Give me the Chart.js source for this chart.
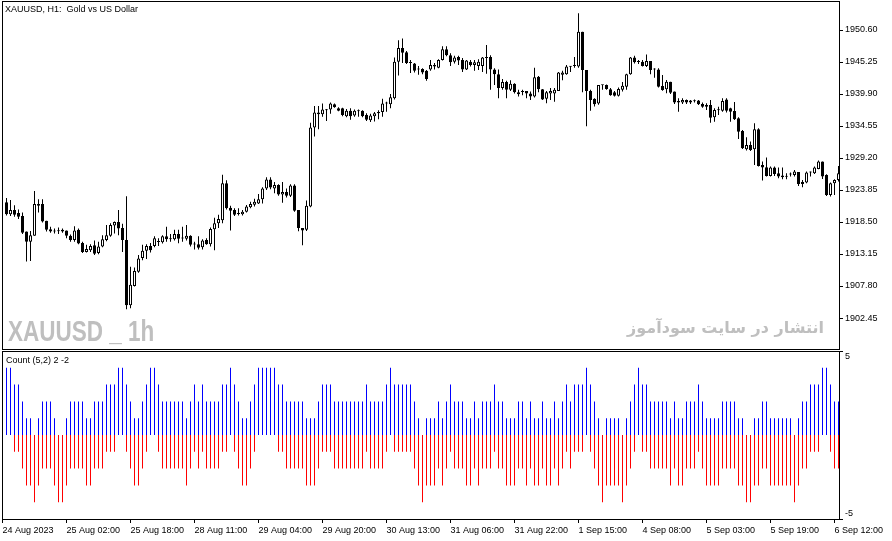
<!DOCTYPE html>
<html>
<head>
<meta charset="utf-8">
<title>XAUUSD H1</title>
<script src="https://cdn.jsdelivr.net/npm/chart.js@4.4.0/dist/chart.umd.min.js"></script>
<style>
  body { margin: 0; background: #fff; width: 892px; height: 541px; position: relative; overflow: hidden;
         font-family: "Liberation Sans", Arial, sans-serif; }
  canvas { position: absolute; left: 0; }
  #main { top: 0; }
  #sub { top: 350px; }
  .txt { position: absolute; white-space: nowrap; color: #000; font-size: 9px; line-height: 11px; }
  #title { left: 5px; top: 4px; }
  #countLabel { left: 6px; top: 355px; }
  #mark1 { position: absolute; left: 8px; top: 316px; font-size: 30px; line-height: 30px; font-weight: bold;
           color: #bfbfbf; transform: scaleX(0.75); transform-origin: left top; white-space: nowrap; }
  #mark2 { position: absolute; right: 68px; top: 317px; font-family: "DejaVu Sans"; font-size: 16px; line-height: 22px;
           font-weight: bold; color: #bfbfbf; direction: rtl; white-space: nowrap; }
</style>
</head>
<body>
<canvas id="main" width="892" height="350"></canvas>
<canvas id="sub" width="892" height="191"></canvas>
<div class="txt" id="title">XAUUSD, H1:&nbsp; Gold vs US Dollar</div>
<div class="txt" id="countLabel">Count (5,2) 2 -2</div>
<div id="mark1">XAUUSD _ 1h</div>
<div id="mark2">انتشار در سایت سودآموز</div>
<script>
// Velas H1
const opens = [
  1921.8, 1919.8, 1920.5, 1920.0, 1919.5, 1916.9, 1915.2, 1916.2, 1921.5, 1921.5,
  1918.7, 1917.3, 1917.1, 1917.0, 1917.2, 1917.1, 1916.2, 1915.5, 1917.2, 1915.0,
  1913.5, 1913.8, 1914.6, 1913.3, 1914.4, 1915.5, 1916.2, 1917.9, 1918.5, 1917.5,
  1915.5, 1904.6, 1907.8, 1910.2, 1912.5, 1913.7, 1914.5, 1914.5, 1915.2, 1915.1,
  1916.1, 1915.6, 1915.6, 1916.5, 1915.8, 1915.7, 1916.2, 1914.8, 1914.8, 1914.3,
  1915.5, 1914.8, 1917.3, 1918.3, 1918.8, 1924.97, 1920.9, 1920.5, 1919.9, 1919.8,
  1920.2, 1920.96, 1921.4, 1921.6, 1922.3, 1924.1, 1925.6, 1924.1, 1924.7, 1923.1,
  1923.5, 1922.9, 1924.6, 1920.5, 1917.5, 1917.2, 1921.1, 1934.3, 1936.8, 1936.5,
  1937.3, 1937.3, 1938.2, 1937.5, 1937.5, 1936.2, 1937.1, 1936.3, 1937.1, 1937.1,
  1936.4, 1935.5, 1936.2, 1936.7, 1936.9, 1938.3, 1938.2, 1939.2, 1945.3, 1947.6,
  1946.9, 1945.2, 1945.0, 1944.0, 1944.1, 1943.8, 1944.0, 1944.5, 1944.3, 1945.6,
  1947.4, 1946.4, 1945.3, 1946.1, 1945.6, 1944.0, 1945.3, 1944.75, 1944.6, 1944.6,
  1946.0, 1946.1, 1944.0, 1943.2, 1940.9, 1941.9, 1940.6, 1941.6, 1940.2, 1940.3,
  1940.4, 1940.0, 1939.5, 1942.8, 1940.7, 1939.1, 1940.0, 1940.0, 1940.4, 1943.1,
  1943.2, 1944.5, 1944.6, 1944.5, 1950.3, 1943.9, 1940.4, 1939.1, 1938.3, 1941.4,
  1941.4, 1940.7, 1940.2, 1939.6, 1940.6, 1941.1, 1943.2, 1946.0, 1945.3, 1945.3,
  1944.6, 1945.4, 1944.0, 1944.0, 1941.24, 1940.69, 1941.97, 1940.3, 1938.74, 1938.46,
  1938.9, 1938.8, 1938.74, 1938.8, 1938.24, 1938.07, 1938.07, 1936.01, 1937.23, 1937.12,
  1939.0, 1937.51, 1937.07, 1935.84, 1933.72, 1930.66, 1931.38, 1930.66, 1934.0, 1928.04,
  1927.65, 1926.2, 1927.6, 1926.65, 1926.26, 1926.09, 1926.48, 1926.37, 1926.87, 1925.2,
  1925.09, 1926.76, 1926.65, 1927.37, 1928.6, 1926.37, 1923.03, 1924.98, 1925.54
];
const highs = [
  1922.5, 1922.2, 1921.3, 1920.6, 1920.1, 1916.9, 1917.0, 1923.7, 1922.3, 1922.3,
  1918.7, 1917.7, 1917.4, 1917.6, 1917.4, 1917.1, 1916.4, 1917.8, 1917.4, 1915.2,
  1914.7, 1914.8, 1915.4, 1915.2, 1916.3, 1918.0, 1918.3, 1918.6, 1920.5, 1918.2,
  1922.8, 1911.0, 1910.9, 1913.0, 1914.7, 1914.8, 1915.0, 1916.1, 1915.8, 1916.3,
  1917.7, 1916.5, 1917.2, 1917.2, 1917.7, 1918.0, 1916.3, 1915.2, 1916.1, 1915.6,
  1915.8, 1917.6, 1919.2, 1919.7, 1926.4, 1925.5, 1921.2, 1920.8, 1920.8, 1920.5,
  1921.35, 1921.9, 1922.4, 1923.2, 1924.3, 1926.0, 1926.0, 1925.2, 1924.8, 1925.2,
  1924.1, 1924.8, 1924.8, 1920.5, 1917.5, 1922.1, 1935.1, 1937.9, 1937.9, 1938.3,
  1937.4, 1938.5, 1938.3, 1937.7, 1937.6, 1937.4, 1937.5, 1937.3, 1937.3, 1937.2,
  1936.7, 1936.6, 1936.9, 1937.2, 1939.1, 1938.6, 1939.9, 1946.0, 1948.9, 1949.2,
  1947.1, 1945.6, 1945.1, 1944.6, 1944.2, 1943.9, 1945.6, 1945.1, 1945.7, 1947.9,
  1947.9, 1946.7, 1946.3, 1946.3, 1945.9, 1945.6, 1945.6, 1945.6, 1945.7, 1946.1,
  1948.1, 1946.4, 1944.2, 1944.0, 1942.4, 1942.1, 1942.2, 1941.7, 1940.6, 1940.6,
  1940.4, 1940.3, 1944.3, 1942.9, 1940.74, 1940.4, 1940.9, 1940.9, 1943.6, 1943.8,
  1944.75, 1944.6, 1946.1, 1953.4, 1950.3, 1943.9, 1940.6, 1939.2, 1941.4, 1941.45,
  1941.5, 1940.9, 1940.4, 1941.0, 1941.9, 1943.3, 1946.1, 1946.3, 1945.6, 1945.6,
  1946.5, 1945.4, 1944.2, 1944.2, 1943.08, 1942.25, 1941.97, 1940.3, 1939.18, 1939.18,
  1939.0, 1938.9, 1939.0, 1938.9, 1938.46, 1938.35, 1938.9, 1937.51, 1937.79, 1939.18,
  1939.18, 1937.62, 1938.57, 1936.01, 1933.89, 1932.67, 1931.94, 1935.0, 1934.17, 1928.6,
  1929.27, 1927.77, 1927.77, 1927.6, 1927.6, 1926.65, 1926.76, 1927.21, 1926.87, 1925.54,
  1926.93, 1926.93, 1927.77, 1928.77, 1928.6, 1926.48, 1925.09, 1925.65, 1927.88
];
const lows = [
  1919.6, 1919.5, 1919.4, 1919.0, 1916.5, 1911.9, 1912.0, 1916.2, 1920.1, 1918.4,
  1916.9, 1916.7, 1916.6, 1916.5, 1916.7, 1915.8, 1915.2, 1915.2, 1914.8, 1913.3,
  1913.4, 1913.5, 1913.0, 1913.1, 1914.3, 1915.3, 1916.05, 1916.6, 1916.3, 1913.5,
  1903.9, 1904.1, 1907.7, 1910.0, 1912.1, 1912.3, 1913.4, 1914.3, 1914.5, 1914.9,
  1915.2, 1915.2, 1915.4, 1914.95, 1915.2, 1915.4, 1914.4, 1913.9, 1913.9, 1913.9,
  1914.7, 1914.4, 1913.8, 1917.5, 1918.3, 1920.6, 1917.1, 1919.5, 1919.6, 1919.6,
  1920.1, 1920.8, 1921.1, 1921.5, 1921.6, 1923.86, 1923.97, 1923.3, 1922.9, 1921.7,
  1922.6, 1922.7, 1920.2, 1916.95, 1914.6, 1917.0, 1920.96, 1932.8, 1934.0, 1936.1,
  1935.4, 1936.6, 1937.6, 1937.0, 1936.2, 1936.0, 1935.6, 1936.1, 1936.1, 1936.0,
  1935.4, 1935.2, 1935.3, 1935.7, 1936.1, 1936.95, 1937.5, 1939.0, 1943.0, 1945.1,
  1944.9, 1943.4, 1943.5, 1943.1, 1943.2, 1942.1, 1943.8, 1944.0, 1944.2, 1945.5,
  1946.2, 1944.6, 1945.0, 1944.75, 1943.6, 1943.9, 1944.5, 1943.8, 1943.9, 1943.6,
  1943.3, 1940.6, 1941.4, 1939.2, 1940.6, 1939.2, 1940.4, 1940.0, 1939.5, 1939.7,
  1939.2, 1938.9, 1939.3, 1940.2, 1938.9, 1938.35, 1938.9, 1938.6, 1940.4, 1942.2,
  1943.1, 1943.6, 1944.3, 1944.3, 1940.2, 1934.5, 1937.1, 1937.8, 1938.1, 1940.6,
  1940.6, 1939.6, 1939.5, 1939.5, 1940.3, 1940.6, 1943.1, 1945.0, 1944.9, 1944.5,
  1944.4, 1943.2, 1942.6, 1941.0, 1940.46, 1940.02, 1939.91, 1938.24, 1936.95, 1938.24,
  1938.24, 1938.24, 1938.46, 1938.07, 1937.62, 1937.23, 1935.11, 1935.28, 1936.4, 1936.95,
  1936.79, 1935.28, 1935.56, 1932.39, 1930.72, 1930.44, 1930.38, 1928.04, 1927.77, 1925.42,
  1926.09, 1926.09, 1926.2, 1925.81, 1925.65, 1925.65, 1926.09, 1926.09, 1924.53, 1924.31,
  1924.98, 1926.09, 1926.54, 1927.32, 1925.7, 1922.86, 1922.75, 1923.03, 1925.26
];
const closes = [
  1919.8, 1920.5, 1919.7, 1919.4, 1916.7, 1915.2, 1916.3, 1921.5, 1921.2, 1918.6,
  1917.2, 1916.9, 1916.9, 1916.95, 1916.9, 1916.2, 1915.5, 1917.1, 1914.9, 1913.5,
  1914.0, 1914.5, 1913.2, 1914.4, 1915.6, 1916.3, 1918.0, 1918.5, 1917.4, 1915.5,
  1904.6, 1908.0, 1910.3, 1912.4, 1913.7, 1914.5, 1913.8, 1915.8, 1915.15, 1916.1,
  1915.6, 1915.65, 1916.5, 1915.7, 1915.75, 1916.2, 1914.7, 1914.75, 1914.2, 1915.4,
  1914.8, 1917.35, 1918.3, 1919.0, 1924.97, 1920.8, 1920.4, 1919.7, 1919.85, 1920.2,
  1921.1, 1921.5, 1921.9, 1922.3, 1924.1, 1925.6, 1924.25, 1924.7, 1923.1, 1923.5,
  1922.9, 1924.6, 1920.4, 1917.5, 1917.1, 1921.2, 1934.3, 1936.8, 1936.5, 1937.3,
  1937.2, 1938.3, 1937.7, 1937.1, 1936.4, 1937.1, 1936.2, 1937.1, 1937.0, 1936.2,
  1935.6, 1936.3, 1936.7, 1936.9, 1938.3, 1938.35, 1939.35, 1945.3, 1947.6, 1946.8,
  1945.1, 1945.1, 1943.8, 1944.05, 1943.5, 1942.4, 1944.75, 1944.75, 1945.6, 1947.4,
  1946.4, 1945.2, 1946.0, 1945.5, 1944.0, 1945.5, 1944.75, 1945.2, 1945.3, 1946.0,
  1945.9, 1944.0, 1943.2, 1940.9, 1941.9, 1940.6, 1941.6, 1940.2, 1939.85, 1940.25,
  1940.0, 1939.5, 1942.7, 1940.7, 1939.0, 1940.2, 1940.4, 1940.6, 1943.5, 1943.5,
  1944.5, 1944.45, 1944.7, 1950.3, 1943.9, 1940.4, 1938.9, 1938.2, 1941.4, 1941.35,
  1940.74, 1939.7, 1939.6, 1940.74, 1941.3, 1943.2, 1946.0, 1945.2, 1945.25, 1944.6,
  1945.4, 1943.9, 1944.0, 1941.1, 1940.58, 1941.97, 1940.13, 1938.46, 1938.46, 1938.9,
  1938.46, 1938.46, 1938.7, 1938.18, 1937.79, 1937.79, 1935.95, 1937.23, 1937.2, 1938.74,
  1937.12, 1936.95, 1935.67, 1933.61, 1930.83, 1931.38, 1930.55, 1934.0, 1927.88, 1927.6,
  1926.2, 1927.6, 1926.54, 1926.09, 1925.98, 1926.05, 1926.45, 1926.93, 1924.87, 1924.87,
  1926.76, 1926.8, 1927.6, 1928.6, 1926.09, 1923.03, 1924.98, 1925.54, 1926.65
];

// Indicador Count (5,2): barras azuis (acima) e vermelhas (abaixo)
const countUp = [
  4, 4, 3, 3, 2, 1, 1, 0, 1, 2,  2, 2, 1, 0, 0, 1, 2, 2, 2, 2,
  1, 1, 2, 2, 2, 3, 3, 3, 4, 4,  3, 2, 1, 1, 2, 3, 4, 4, 3, 2,
  2, 2, 2, 2, 2, 1, 2, 3, 2, 3,  2, 2, 2, 2, 3, 3, 4, 3, 2, 1,
  1, 2, 3, 4, 4, 4, 4, 4, 3, 3,  2, 2, 2, 2, 2, 1, 1, 1, 2, 3,
  3, 3, 2, 2, 2, 2, 2, 2, 2, 2,  3, 2, 2, 2, 2, 3, 4, 3, 3, 3,
  3, 3, 2, 1, 0, 1, 1, 1, 2, 1,  2, 3, 2, 2, 2, 1, 1, 2, 1, 2,
  2, 2, 3, 2, 2, 1, 1, 1, 2, 2,  1, 2, 1, 1, 2, 1, 1, 2, 1, 2,
  3, 2, 3, 3, 3, 4, 3, 2, 1, 0,  1, 1, 1, 1, 0, 1, 2, 3, 4, 3,
  3, 2, 2, 2, 2, 2, 1, 2, 1, 1,  2, 2, 2, 3, 2, 1, 1, 1, 1, 2,
  2, 2, 2, 1, 1, 0, 0, 1, 1, 2,  2, 1, 1, 1, 1, 1, 1, 0, 1, 2,
  2, 3, 3, 3, 4, 4, 3, 2, 2
];
const countDown = [
  0, 0, -1, -1, -2, -3, -3, -4, -3, -2,  -2, -2, -3, -4, -4, -3, -2, -2, -2, -2,
  -3, -3, -2, -2, -2, -1, -1, -1, 0, 0,  -1, -2, -3, -3, -2, -1, 0, 0, -1, -2,
  -2, -2, -2, -2, -2, -3, -2, -1, -2, -1,  -2, -2, -2, -2, -1, -1, 0, -1, -2, -3,
  -3, -2, -1, 0, 0, 0, 0, 0, -1, -1,  -2, -2, -2, -2, -2, -3, -3, -3, -2, -1,
  -1, -1, -2, -2, -2, -2, -2, -2, -2, -2,  -1, -2, -2, -2, -2, -1, 0, -1, -1, -1,
  -1, -1, -2, -3, -4, -3, -3, -3, -2, -3,  -2, -1, -2, -2, -2, -3, -3, -2, -3, -2,
  -2, -2, -1, -2, -2, -3, -3, -3, -2, -2,  -3, -2, -3, -3, -2, -3, -3, -2, -3, -2,
  -1, -2, -1, -1, -1, 0, -1, -2, -3, -4,  -3, -3, -3, -3, -4, -3, -2, -1, 0, -1,
  -1, -2, -2, -2, -2, -2, -3, -2, -3, -3,  -2, -2, -2, -1, -2, -3, -3, -3, -3, -2,
  -2, -2, -2, -3, -3, -4, -4, -3, -3, -2,  -2, -3, -3, -3, -3, -3, -3, -4, -3, -2,
  -2, -1, -1, -1, 0, 0, -1, -2, -2
];

// Escalas e rótulos dos eixos
const priceTicks = [1950.60, 1945.25, 1939.90, 1934.55, 1929.20, 1923.85, 1918.50, 1913.15, 1907.80, 1902.45];
const timeTicks = ["24 Aug 2023", "25 Aug 02:00", "25 Aug 18:00", "28 Aug 11:00", "29 Aug 04:00",
  "29 Aug 20:00", "30 Aug 13:00", "31 Aug 06:00", "31 Aug 22:00", "1 Sep 15:00",
  "4 Sep 08:00", "5 Sep 03:00", "5 Sep 19:00", "6 Sep 12:00"];
const timeTickIdx = [-1, 15, 31, 47, 63, 79, 95, 111, 127, 143, 159, 175, 191, 207];
const countTicks = [5, -5];

const xMin = -1.125, xMax = 208.125;
const priceMin = 1897.27, priceMax = 1955.45;
const axisFont = { family: "Liberation Sans", size: 9 };

Chart.defaults.font.family = "Liberation Sans";

// Moldura preta em volta da área do gráfico
const frame = {
  id: "frame",
  afterDraw(chart) {
    const a = chart.chartArea;
    const ctx = chart.ctx;
    ctx.save();
    ctx.strokeStyle = "#000";
    ctx.lineWidth = 1;
    ctx.strokeRect(a.left + 0.5, a.top + 0.5, a.right - a.left, a.bottom - a.top);
    ctx.restore();
  }
};

function zeroPadding(scale) {
  scale.paddingTop = 0;
  scale.paddingBottom = 0;
  scale.paddingLeft = 0;
  scale.paddingRight = 0;
}

// Gráfico de velas (preço)
function criarGraficoPreco() {
  const ctx = document.getElementById("main").getContext("2d");
  const idx = opens.map((_, i) => i);

  new Chart(ctx, {
    type: "bar",
    data: {
      datasets: [{
        // corpos
        data: idx.map(i => ({ x: i, y: [opens[i], closes[i]] })),
        backgroundColor: idx.map(i => closes[i] >= opens[i] ? "#ffffff" : "#000000"),
        borderColor: "#000000",
        borderWidth: 1,
        borderSkipped: false,
        barThickness: 3,
        minBarLength: 1,
        inflateAmount: 0,
        grouped: false,
        order: 0,
      }, {
        // sombras
        data: idx.map(i => ({ x: i, y: [lows[i], highs[i]] })),
        backgroundColor: "#000000",
        borderWidth: 0,
        barThickness: 1,
        minBarLength: 1,
        inflateAmount: 0,
        grouped: false,
        order: 1,
      }],
    },
    options: {
      responsive: false,
      animation: false,
      devicePixelRatio: 1,
      layout: { padding: { left: 2, top: 1, right: 0, bottom: 1 } },
      plugins: { legend: { display: false }, tooltip: { enabled: false } },
      scales: {
        x: { type: "linear", min: xMin, max: xMax, offset: false, bounds: "data", display: false,
             grid: { offset: false } },
        y: {
          position: "right",
          min: priceMin,
          max: priceMax,
          bounds: "data",
          afterFit: s => { s.width = 53; zeroPadding(s); },
          afterBuildTicks: s => { s.ticks = priceTicks.map(v => ({ value: v })); },
          grid: { drawOnChartArea: false, drawTicks: true, tickLength: 4, color: "#000" },
          border: { display: false },
          ticks: { padding: 2, color: "#000", font: axisFont, callback: v => v.toFixed(2) },
        },
      },
    },
    plugins: [frame],
  });
}

// Histograma do indicador + eixo de tempo
function criarGraficoCount() {
  const ctx = document.getElementById("sub").getContext("2d");
  const idx = countUp.map((_, i) => i);

  new Chart(ctx, {
    type: "bar",
    data: {
      datasets: [{
        data: idx.map(i => ({ x: i, y: countUp[i] })),
        backgroundColor: "#0000ff",
        barThickness: 1,
        inflateAmount: 0,
        grouped: false,
      }, {
        data: idx.map(i => ({ x: i, y: countDown[i] })),
        backgroundColor: "#ff0000",
        barThickness: 1,
        inflateAmount: 0,
        grouped: false,
      }],
    },
    options: {
      responsive: false,
      animation: false,
      devicePixelRatio: 1,
      layout: { padding: { left: 2, top: 1, right: 0, bottom: 0 } },
      plugins: { legend: { display: false }, tooltip: { enabled: false } },
      scales: {
        x: {
          type: "linear", min: xMin, max: xMax, offset: false, bounds: "data", position: "bottom",
          afterFit: s => { s.height = 22; zeroPadding(s); },
          afterBuildTicks: s => { s.ticks = timeTickIdx.map(v => ({ value: v })); },
          grid: { offset: false, drawOnChartArea: false, drawTicks: true, tickLength: 4, color: "#000" },
          border: { display: false },
          ticks: { autoSkip: false, maxRotation: 0, minRotation: 0, align: "start", padding: 2,
                   color: "#000", font: axisFont, callback: (v, i) => timeTicks[i] },
        },
        y: {
          position: "right",
          min: -5,
          max: 5,
          bounds: "data",
          afterFit: s => { s.width = 53; zeroPadding(s); },
          afterBuildTicks: s => { s.ticks = countTicks.map(v => ({ value: v })); },
          grid: { drawOnChartArea: false, drawTicks: true, tickLength: 4, color: "#000" },
          border: { display: false },
          // rótulos das pontas ficam para dentro do painel
          ticks: { padding: 2, color: "#000", font: axisFont,
                   callback: v => v > 0 ? ["", String(v)] : [String(v), ""] },
        },
      },
    },
    plugins: [frame],
  });
}

criarGraficoPreco();
criarGraficoCount();
</script>
</body>
</html>
